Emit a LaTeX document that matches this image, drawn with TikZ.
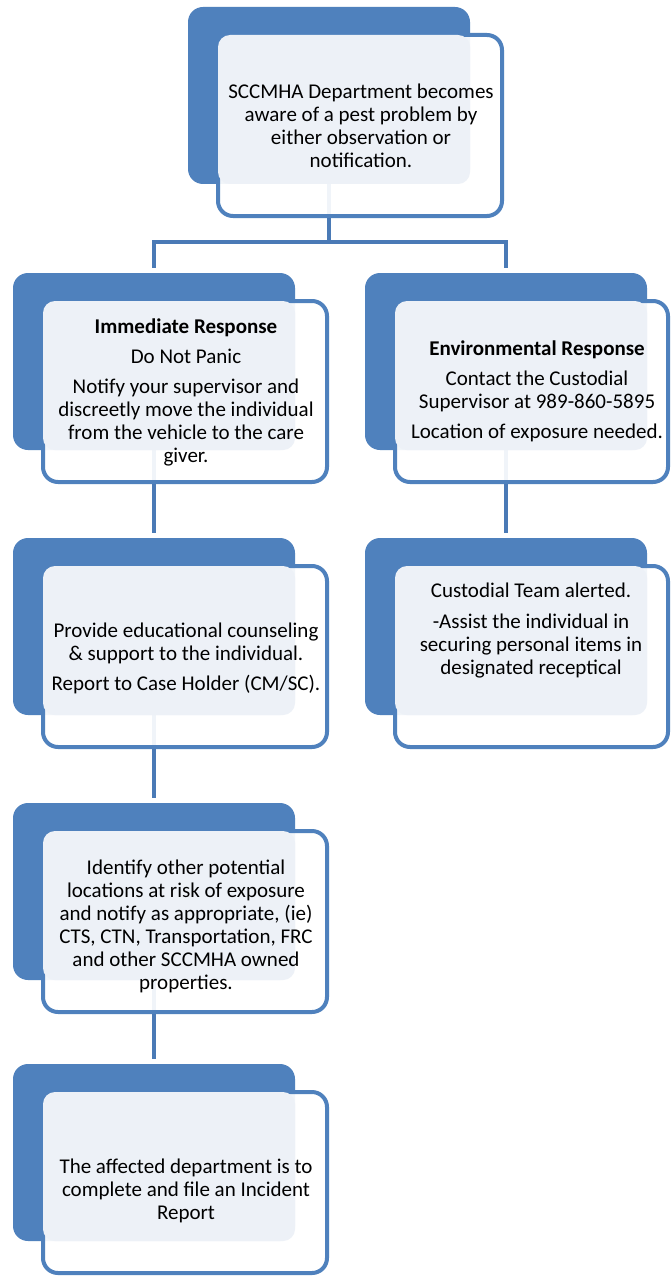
\documentclass[tikz,border=0pt]{standalone}
\usepackage{fontspec}
\setmainfont{Carlito}
\usetikzlibrary{fit,backgrounds}

\definecolor{cardblue}{HTML}{4F81BD}
\definecolor{cardtint}{HTML}{EDF1F7}
\definecolor{linkblue}{HTML}{4A7AB6}

\tikzset{
  backcard/.style={fill=cardblue, draw=none, rounded corners=15pt, anchor=north west,
    inner sep=0pt, outer sep=0pt, minimum width=282pt, minimum height=177pt},
  frontcard/.style={fill=white, fill opacity=0.92, draw=cardblue, draw opacity=1,
    line width=4pt, rounded corners=15pt, anchor=north west,
    inner sep=0pt, outer sep=0pt, minimum height=181pt},
  tintcard/.style={fill=cardtint, draw=none, rounded corners=12pt,
    inner sep=0pt, outer sep=0pt},
  cardtext/.style={align=center, inner sep=0pt, text=black,
    font=\fontsize{21}{23}\selectfont},
  link/.style={draw=linkblue, line width=4pt},
}

% one card: back tab, outlined front panel and the tinted overlap
% #1 name, #2 back x, #3 back y, #4 front width
\newcommand\flowcard[4]{%
  \node[backcard] (#1b) at (#2,#3) {};
  \node[frontcard, minimum width=#4pt] (#1f) at (#2+30,#3+28) {};
  \node[tintcard, fit=(#1f.north west)(#1b.south east)] (#1t) {};
}

\begin{document}
\begin{tikzpicture}[x=1pt, y=-1pt]
\useasboundingbox (0,0) rectangle (671,1276);

\flowcard{top}{188}{7}{284}
\flowcard{imm}{13}{273}{284}
\flowcard{env}{365}{273}{273}
\flowcard{edu}{13}{538}{284}
\flowcard{cus}{365}{538}{273}
\flowcard{loc}{13}{803}{284}
\flowcard{rep}{13}{1064}{284}

\node[cardtext] (toptx) at (361,126) {SCCMHA Department becomes\\ aware of a pest problem by\\ either observation or\\ notification.};
\node[cardtext] (immtx) at (186,392) {\textbf{Immediate Response}\\[7pt] Do Not Panic\\[7pt] Notify your supervisor and\\ discreetly move the individual\\ from the vehicle to the care\\ giver.};
\node[cardtext] (envtx) at (537,391) {\textbf{Environmental Response}\\[7pt] Contact the Custodial\\ Supervisor at 989-860-5895\\[7pt] Location of exposure needed.};
\node[cardtext] (edutx) at (186,658) {Provide educational counseling\\ \& support to the individual.\\[7pt] Report to Case Holder (CM/SC).};
\node[cardtext] (custx) at (531,631) {Custodial Team alerted.\\[8pt] -Assist the individual in\\ securing personal items in\\ designated receptical};
\node[cardtext] (loctx) at (186,926) {Identify other potential\\ locations at risk of exposure\\ and notify as appropriate, (ie)\\ CTS, CTN, Transportation, FRC\\ and other SCCMHA owned\\ properties.};
\node[cardtext] (reptx) at (186,1191) {The affected department is to\\ complete and file an Incident\\ Report};

\coordinate (fork) at (topb.south |- 0,242);

\begin{pgfonlayer}{background}
  \fill[white] (0,0) rectangle (671,1276);
  \draw[link] (topb.south) -- (fork);
  \draw[link, shorten >=5pt] (fork) -| (immb.north);
  \draw[link, shorten >=5pt] (fork) -| (envb.north);
  \draw[link, shorten >=5pt] (immb.south) -- (edub.north);
  \draw[link, shorten >=5pt] (envb.south) -- (cusb.north);
  \draw[link, shorten >=5pt] (edub.south) -- (locb.north);
  \draw[link, shorten >=5pt] (locb.south) -- (repb.north);
\end{pgfonlayer}
\end{tikzpicture}
\end{document}
